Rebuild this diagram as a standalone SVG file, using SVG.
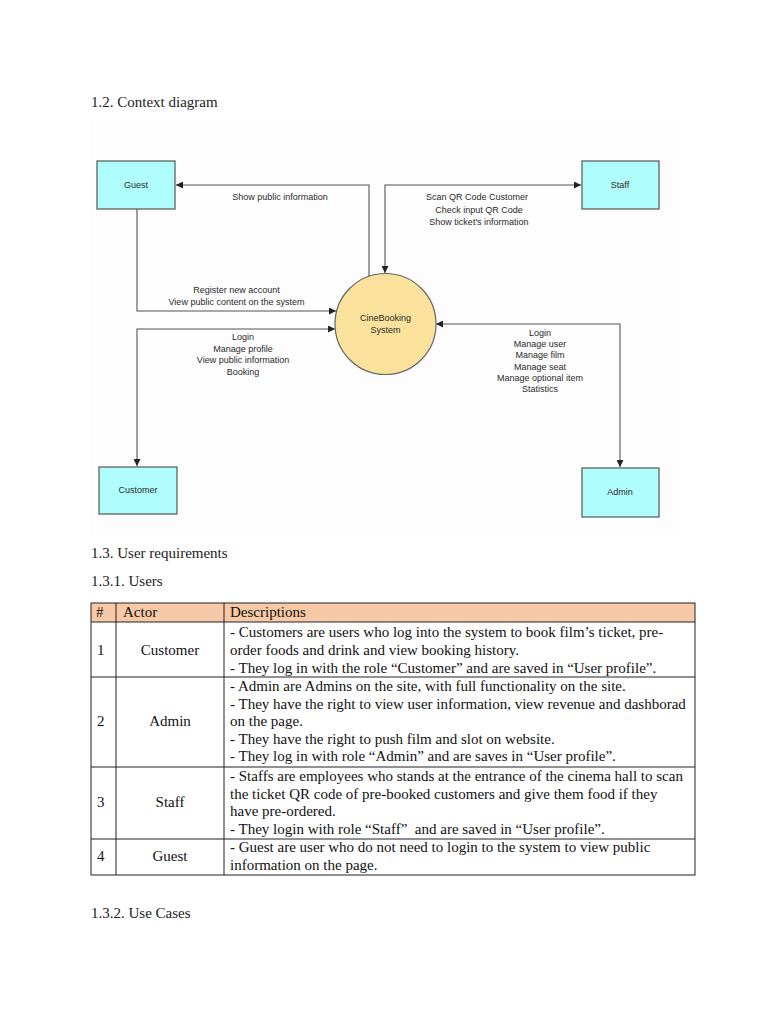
<svg xmlns="http://www.w3.org/2000/svg" width="768" height="1024" viewBox="0 0 768 1024">
<style>
.h{font-family:"Liberation Serif","Times New Roman",serif;font-size:15px;fill:#222}
.t{font-family:"Liberation Serif","Times New Roman",serif;font-size:15px;fill:#111}
.d{font-family:"Liberation Sans",Arial,sans-serif;font-size:9px;fill:#2a2a2a;text-anchor:middle}
.box{fill:#b0fdfd;stroke:#555;stroke-width:1.2}
.conn{fill:none;stroke:#555;stroke-width:1.1}
.grid{stroke:#222;stroke-width:1;fill:none}
.c{text-anchor:middle}
</style>
<defs>
<marker id="ar" viewBox="0 0 10 10" refX="10" refY="5" markerWidth="7" markerHeight="7" markerUnits="userSpaceOnUse" orient="auto-start-reverse">
<path d="M0,0 L10,5 L0,10 z" fill="#222"/>
</marker>
</defs>
<rect width="768" height="1024" fill="#ffffff"/>
<text class="h" x="91" y="107">1.2. Context diagram</text>
<rect x="90" y="120" width="590" height="416" fill="#fdfdfd"/>
<g id="connectors">
<path class="conn" d="M369,276 V185 H176" marker-end="url(#ar)"/>
<path class="conn" d="M385,273 V185 H581" marker-start="url(#ar)" marker-end="url(#ar)"/>
<path class="conn" d="M137,209 V311 H336" marker-end="url(#ar)"/>
<path class="conn" d="M137,466 V329 H335" marker-start="url(#ar)" marker-end="url(#ar)"/>
<path class="conn" d="M620,467 V324 H436" marker-start="url(#ar)" marker-end="url(#ar)"/>
<text class="d" x="280" y="200">Show public information</text>
<text class="d" x="477" y="200">Scan QR Code Customer</text>
<text class="d" x="479" y="213">Check input QR Code</text>
<text class="d" x="479" y="225">Show ticket's information</text>
<text class="d" x="236.5" y="293">Register new account</text>
<text class="d" x="236.5" y="305">View public content on the system</text>
<text class="d" x="243" y="340">Login</text>
<text class="d" x="243" y="352">Manage profile</text>
<text class="d" x="243" y="363">View public information</text>
<text class="d" x="243" y="375">Booking</text>
<text class="d" x="540" y="336">Login</text>
<text class="d" x="540" y="347">Manage user</text>
<text class="d" x="540" y="358">Manage film</text>
<text class="d" x="540" y="370">Manage seat</text>
<text class="d" x="540" y="381">Manage optional item</text>
<text class="d" x="540" y="392">Statistics</text>
</g>
<g id="guest"><rect class="box" x="97" y="161" width="78" height="48"/><text class="d" x="136" y="188">Guest</text></g>
<g id="staff"><rect class="box" x="582" y="161" width="77" height="48"/><text class="d" x="620" y="188">Staff</text></g>
<g id="customer"><rect class="box" x="99" y="467" width="78" height="47"/><text class="d" x="138" y="493">Customer</text></g>
<g id="admin"><rect class="box" x="582" y="468" width="77" height="49"/><text class="d" x="620" y="495">Admin</text></g>
<g id="system"><circle cx="385.5" cy="324" r="50.5" fill="#fae29c" stroke="#666" stroke-width="1.2"/><text class="d" x="385.5" y="321">CineBooking</text><text class="d" x="385.5" y="333">System</text></g>
<text class="h" x="91" y="558">1.3. User requirements</text>
<text class="h" x="91" y="586">1.3.1. Users</text>
<g id="table">
<rect x="91" y="603" width="604" height="19" fill="#f8c9a6"/>
<rect class="grid" x="91" y="603" width="604" height="272"/>
<line class="grid" x1="116" y1="603" x2="116" y2="875"/>
<line class="grid" x1="224" y1="603" x2="224" y2="875"/>
<line class="grid" x1="91" y1="622" x2="695" y2="622"/>
<line class="grid" x1="91" y1="677" x2="695" y2="677"/>
<line class="grid" x1="91" y1="767" x2="695" y2="767"/>
<line class="grid" x1="91" y1="839" x2="695" y2="839"/>
<text class="t" x="96" y="617">#</text>
<text class="t" x="123" y="617">Actor</text>
<text class="t" x="230" y="617">Descriptions</text>
<text class="t" x="97" y="655">1</text>
<text class="t c" x="170" y="655">Customer</text>
<text class="t" x="230" y="637">- Customers are users who log into the system to book film’s ticket, pre-</text>
<text class="t" x="230" y="655">order foods and drink and view booking history.</text>
<text class="t" x="230" y="673">- They log in with the role “Customer” and are saved in “User profile”.</text>
<text class="t" x="97" y="726">2</text>
<text class="t c" x="170" y="726">Admin</text>
<text class="t" x="230" y="691">- Admin are Admins on the site, with full functionality on the site.</text>
<text class="t" x="230" y="709">- They have the right to view user information, view revenue and dashborad</text>
<text class="t" x="230" y="726">on the page.</text>
<text class="t" x="230" y="744">- They have the right to push film and slot on website.</text>
<text class="t" x="230" y="761">- They log in with role “Admin” and are saves in “User profile”.</text>
<text class="t" x="97" y="807">3</text>
<text class="t c" x="170" y="807">Staff</text>
<text class="t" x="230" y="781">- Staffs are employees who stands at the entrance of the cinema hall to scan</text>
<text class="t" x="230" y="799">the ticket QR code of pre-booked customers and give them food if they</text>
<text class="t" x="230" y="816">have pre-ordered.</text>
<text class="t" x="230" y="834" xml:space="preserve">- They login with role “Staff”  and are saved in “User profile”.</text>
<text class="t" x="97" y="861">4</text>
<text class="t c" x="170" y="861">Guest</text>
<text class="t" x="230" y="852">- Guest are user who do not need to login to the system to view public</text>
<text class="t" x="230" y="870">information on the page.</text>
</g>
<text class="h" x="91" y="918">1.3.2. Use Cases</text>
</svg>
